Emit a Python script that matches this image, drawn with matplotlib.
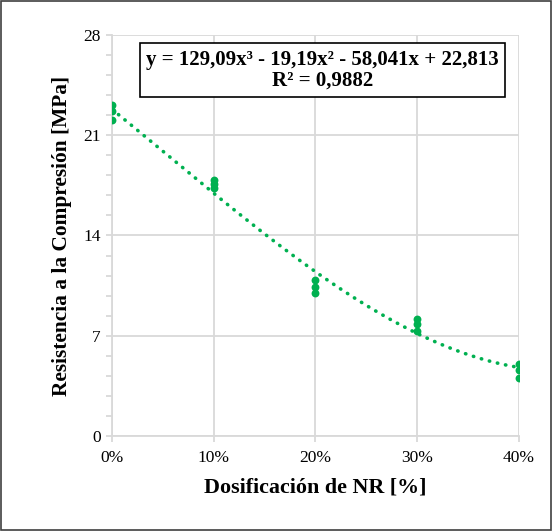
import numpy as np
import matplotlib
matplotlib.use("Agg")
import matplotlib.pyplot as plt
from matplotlib.ticker import FuncFormatter, MultipleLocator
from matplotlib.patches import Rectangle

# dosificacion (fraction) and measured strength (MPa), three specimens each
dosis = [0.0, 0.0, 0.0, 0.1, 0.1, 0.1, 0.2, 0.2, 0.2, 0.3, 0.3, 0.3, 0.4, 0.4, 0.4]
resistencia = [23.1, 22.7, 22.1, 17.9, 17.6, 17.3, 10.9, 10.4, 10.0, 8.15, 7.8, 7.35, 5.0, 4.6, 4.05]
# trendline coefficients as printed on the chart
coef = [129.09, -19.19, -58.041, 22.813]
ecuacion = "y = 129,09x³ - 19,19x² - 58,041x + 22,813\nR² = 0,9882"

green = "#00B050"
grid_c = "#D9D9D9"
plt.rcParams['font.family'] = ['Liberation Serif', 'DejaVu Serif']

fig = plt.figure(figsize=(5.52, 5.31), dpi=100)
ax = fig.add_axes([0.203, 0.179, 0.737, 0.755])

xs = np.linspace(0, 0.4, 200)
ax.plot(xs, np.polyval(coef, xs), color=green, lw=2.6, linestyle=(0, (0.1, 2.2)),
        dash_capstyle='round', zorder=3)
ax.scatter(dosis, resistencia, s=32, color=green, zorder=4, linewidths=0)

ax.set_xlim(0, 0.4)
ax.set_ylim(0, 28)
ax.xaxis.set_major_locator(MultipleLocator(0.1))
ax.yaxis.set_major_locator(MultipleLocator(7))
ax.yaxis.set_minor_locator(MultipleLocator(1.4))
ax.xaxis.set_major_formatter(FuncFormatter(lambda v, p: f"{v*100:.0f}%"))
ax.grid(True, which='major', color=grid_c, lw=1.3, zorder=0)
ax.set_axisbelow(True)
for s in ['top', 'right']:
    ax.spines[s].set_visible(False)
for s in ['left', 'bottom']:
    ax.spines[s].set_color(grid_c)
    ax.spines[s].set_linewidth(1.3)
ax.tick_params(axis='both', which='major', color=grid_c, length=4.3, width=1.3,
               labelsize=12.5, pad=4)
ax.tick_params(axis='x', which='major', pad=6)
ax.tick_params(axis='y', which='minor', color=grid_c, length=4.3, width=1.3)
ax.set_xlabel("Dosificación de NR [%]", fontsize=15.8, fontweight='bold')
ax.xaxis.set_label_coords(0.5, -0.103)
ax.set_ylabel("Resistencia a la Compresión [MPa]", fontsize=15.4, fontweight='bold', labelpad=8)

ax.text(0.518, 0.913, ecuacion, transform=ax.transAxes,
        ha='center', va='center', fontsize=15, fontweight='bold', linespacing=1.05,
        bbox=dict(boxstyle='square,pad=0.3', fc='white', ec='black', lw=1.2), zorder=5)

fig.patches.append(Rectangle((0.002, 0.002), 0.996, 0.996, transform=fig.transFigure,
                             fill=False, ec='#404040', lw=1.2))
fig.savefig("out.png", dpi=100)
